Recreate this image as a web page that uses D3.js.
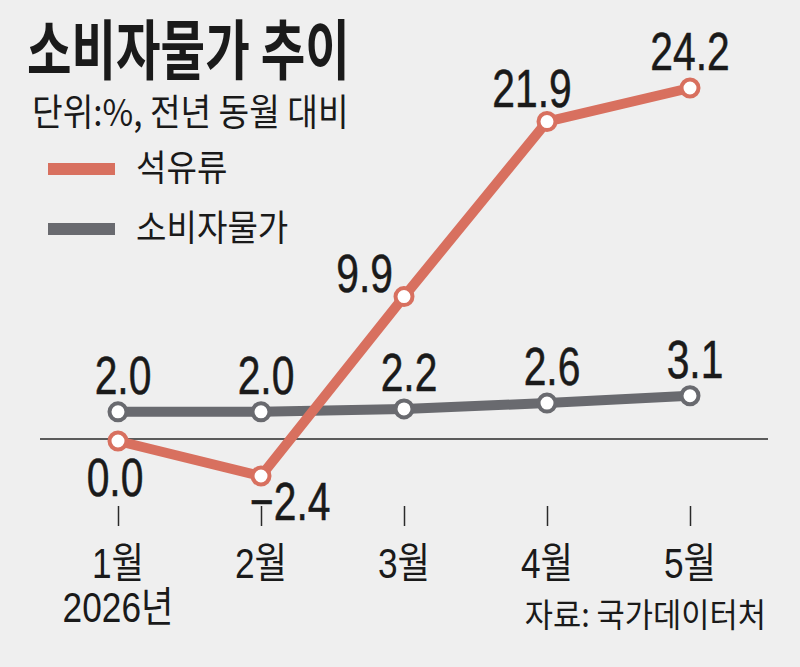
<!DOCTYPE html>
<html>
<head>
<meta charset="utf-8">
<script src="https://cdn.jsdelivr.net/npm/d3@7"></script>
<style>
  body { margin: 0; background: #efefef; }
  svg { display: block; }
  .ko { font-family: "Noto Sans CJK KR", sans-serif; fill: #1a1a1a; }
  .num { font-family: "Liberation Sans", "Noto Sans CJK KR", sans-serif; fill: #1a1a1a; }
</style>
</head>
<body>
<svg id="chart" width="800" height="667"></svg>
<script>
// data
var months = ["1월", "2월", "3월", "4월", "5월"];
var oil = [0.0, -2.4, 9.9, 21.9, 24.2];       // 석유류
var cpi = [2.0, 2.0, 2.2, 2.6, 3.1];          // 소비자물가
var seriesNames = ["석유류", "소비자물가"];
var colours = ["#d8705f", "#696a6f"];

// where each oil label sits around its point (layout only)
var oilLabelSide = ["below", "belowRight", "left", "aboveLeft", "above"];

var svg = d3.select("#chart");
svg.append("rect").attr("width", 800).attr("height", 667).attr("fill", "#efefef");

var x = d3.scalePoint().domain(months).range([118, 690]);
var y = d3.scaleLinear().domain([-2.4, 24.2]).range([476, 88]);

// squeezed text, the original uses a condensed face
function squeezed(g, cls, str, px, py, size, sx, anchor, weight){
  return g.append("text")
    .attr("class", cls)
    .attr("transform", "translate(" + px + "," + py + ") scale(" + sx + ",1)")
    .attr("text-anchor", anchor || "start")
    .style("font-size", size + "px")
    .style("font-weight", weight || 400)
    .text(str);
}

// title block
squeezed(svg, "ko", "소비자물가 추이", 27, 74, 65, 0.745, "start", 700);
squeezed(svg, "ko", "단위:%, 전년 동월 대비", 32, 126, 37, 0.9);

// legend
seriesNames.forEach(function(name, i){
  var ly = 169 + i * 60;
  svg.append("line")
    .attr("x1", 48).attr("x2", 115).attr("y1", ly).attr("y2", ly)
    .attr("stroke", colours[i]).attr("stroke-width", 12);
  squeezed(svg, "ko", name, 136, ly + 12, 36, 0.92);
});

// zero line
svg.append("line")
  .attr("x1", 40).attr("x2", 768)
  .attr("y1", y(0) - 2).attr("y2", y(0) - 2)
  .attr("stroke", "#2a2a2a").attr("stroke-width", 1.6);

// x axis: ticks and month labels
var axis = svg.append("g").attr("transform", "translate(0,506)")
  .call(d3.axisBottom(x).tickSize(20).tickFormat(""));
axis.select(".domain").remove();
axis.selectAll(".tick line").attr("stroke", "#2a2a2a").attr("stroke-width", 1.5);

months.forEach(function(m){
  squeezed(svg, "num", m, x(m), 578, 42, 0.84, "middle");
});
squeezed(svg, "num", "2026년", x(months[0]), 622, 42, 0.84, "middle");
squeezed(svg, "ko", "자료: 국가데이터처", 766, 627, 33, 0.93, "end");

// lines
var line = d3.line()
  .x(function(d, i){ return x(months[i]); })
  .y(function(d){ return y(d); });

[cpi, oil].forEach(function(series, k){
  var col = k === 0 ? colours[1] : colours[0];
  svg.append("path")
    .datum(series)
    .attr("d", line)
    .attr("fill", "none")
    .attr("stroke", col)
    .attr("stroke-width", 10)
    .attr("stroke-linejoin", "round");
  svg.selectAll(null)
    .data(series)
    .enter()
    .append("circle")
    .attr("cx", function(d, i){ return x(months[i]); })
    .attr("cy", function(d){ return y(d); })
    .attr("r", 8.5)
    .attr("fill", "#fff")
    .attr("stroke", col)
    .attr("stroke-width", 4);
});

// value labels
var fmt = d3.format(".1f");
function labelText(d){ return d < 0 ? "\u2212" + fmt(-d) : fmt(d); }
function valueLabel(d, px, py, anchor){
  squeezed(svg, "num", labelText(d), px, py, 53, 0.77, anchor)
    .attr("stroke", "#1a1a1a").attr("stroke-width", 0.5);
}

cpi.forEach(function(d, i){
  valueLabel(d, x(months[i]) + 5, y(d) - 18, "middle");
});

var offsets = {
  below:      {dx: -3,  dy: 55,  anchor: "middle"},
  belowRight: {dx: -11, dy: 44,  anchor: "start"},
  left:       {dx: -11, dy: -5,  anchor: "end"},
  aboveLeft:  {dx: -15, dy: -15, anchor: "middle"},
  above:      {dx: 0,   dy: -18, anchor: "middle"}
};
oil.forEach(function(d, i){
  var o = offsets[oilLabelSide[i]];
  valueLabel(d, x(months[i]) + o.dx, y(d) + o.dy, o.anchor);
});
</script>
</body>
</html>
